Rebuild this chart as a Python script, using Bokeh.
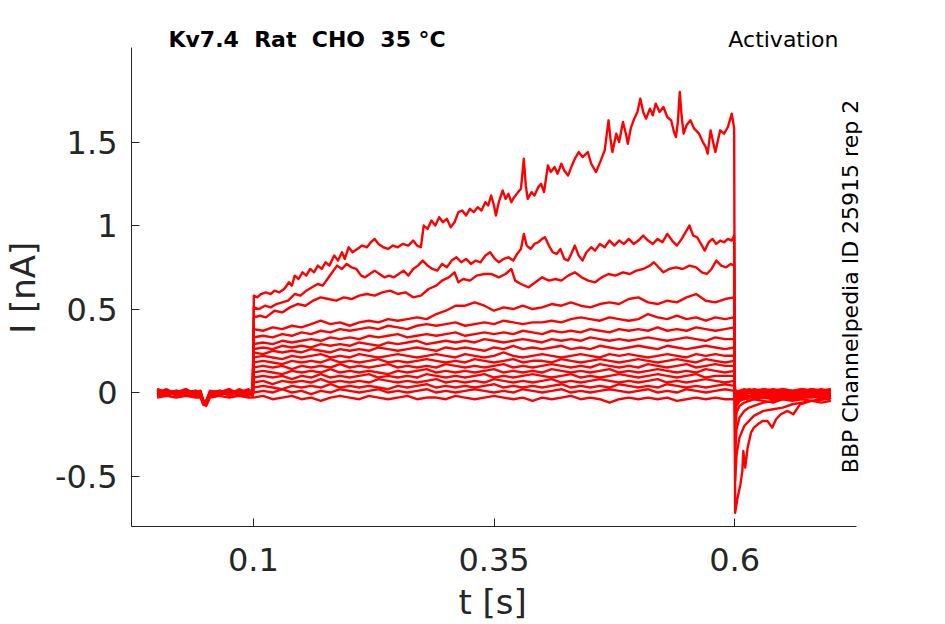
from bokeh.plotting import figure
from bokeh.models import Range1d, FixedTicker, Label
from bokeh.embed import file_html
from bokeh.resources import INLINE
import math

# ---------------- data ----------------
PRE_T = [0.000, 0.010, 0.020, 0.030, 0.040, 0.045, 0.048, 0.051, 0.055, 0.065, 0.075, 0.085, 0.095, 0.0995]
PULSE_T = [0.10, 0.11, 0.12, 0.13, 0.14, 0.15, 0.16, 0.17, 0.18, 0.19,
           0.20, 0.21, 0.22, 0.23, 0.24, 0.25, 0.26, 0.27, 0.28, 0.29,
           0.30, 0.31, 0.32, 0.33, 0.34, 0.35, 0.36, 0.37, 0.38, 0.39,
           0.40, 0.41, 0.42, 0.43, 0.44, 0.45, 0.46, 0.47, 0.48, 0.49,
           0.50, 0.51, 0.52, 0.53, 0.54, 0.55, 0.56, 0.57, 0.58, 0.59,
           0.5995]
TAIL_T = [0.6005, 0.602, 0.605, 0.61, 0.615, 0.62, 0.63, 0.64, 0.65, 0.66, 0.67, 0.68, 0.69, 0.70]

# trace A (largest current), irregular sample times
A_PULSE = [(0.1005, 0.58), (0.104, 0.57), (0.108, 0.59), (0.113, 0.60), (0.118, 0.59), (0.122, 0.61), (0.127, 0.60),
           (0.132, 0.62), (0.137, 0.66), (0.140, 0.64), (0.143, 0.70), (0.147, 0.68), (0.151, 0.72), (0.155, 0.70),
           (0.159, 0.74), (0.163, 0.72), (0.167, 0.76), (0.171, 0.74), (0.175, 0.78), (0.179, 0.76), (0.184, 0.82),
           (0.188, 0.79), (0.192, 0.84), (0.195, 0.80), (0.199, 0.87), (0.203, 0.84), (0.208, 0.86), (0.213, 0.88),
           (0.218, 0.87), (0.222, 0.90), (0.226, 0.92), (0.230, 0.89), (0.235, 0.87), (0.240, 0.86), (0.245, 0.88),
           (0.250, 0.87), (0.255, 0.89), (0.261, 0.88), (0.266, 0.91), (0.270, 0.88), (0.274, 0.87), (0.277, 1.00),
           (0.281, 0.98), (0.285, 1.03), (0.289, 1.00), (0.293, 1.05), (0.297, 1.02), (0.301, 1.04), (0.305, 0.99),
           (0.309, 1.02), (0.313, 1.08), (0.317, 1.09), (0.321, 1.06), (0.325, 1.10), (0.329, 1.08), (0.333, 1.11),
           (0.337, 1.09), (0.341, 1.14), (0.344, 1.12), (0.347, 1.18), (0.350, 1.12), (0.352, 1.06), (0.355, 1.14),
           (0.359, 1.21), (0.362, 1.16), (0.365, 1.19), (0.368, 1.14), (0.371, 1.17), (0.375, 1.20), (0.378, 1.22),
           (0.381, 1.40), (0.383, 1.24), (0.385, 1.16), (0.389, 1.20), (0.392, 1.18), (0.396, 1.23), (0.399, 1.25),
           (0.402, 1.20), (0.406, 1.36), (0.409, 1.32), (0.413, 1.35), (0.416, 1.31), (0.420, 1.37), (0.423, 1.33),
           (0.427, 1.30), (0.431, 1.36), (0.434, 1.40), (0.438, 1.44), (0.442, 1.41), (0.4475, 1.44), (0.451, 1.37),
           (0.456, 1.32), (0.461, 1.39), (0.465, 1.45), (0.469, 1.63), (0.471, 1.52), (0.473, 1.44), (0.477, 1.55),
           (0.480, 1.50), (0.484, 1.62), (0.487, 1.55), (0.489, 1.49), (0.492, 1.58), (0.495, 1.63), (0.499, 1.68),
           (0.502, 1.76), (0.505, 1.68), (0.508, 1.64), (0.512, 1.70), (0.515, 1.66), (0.518, 1.73), (0.522, 1.68),
           (0.526, 1.71), (0.530, 1.65), (0.534, 1.63), (0.537, 1.56), (0.539, 1.53), (0.541, 1.62), (0.543, 1.80),
           (0.545, 1.65), (0.547, 1.55), (0.550, 1.60), (0.554, 1.63), (0.558, 1.58), (0.563, 1.55), (0.567, 1.50),
           (0.570, 1.47), (0.572, 1.43), (0.575, 1.57), (0.578, 1.49), (0.580, 1.44), (0.583, 1.52), (0.585, 1.57),
           (0.589, 1.55), (0.593, 1.59), (0.597, 1.67), (0.5995, 1.58)]
A_TAIL = [(0.6005, -0.72), (0.603, -0.63), (0.606, -0.55), (0.608, -0.47), (0.609, -0.35), (0.611, -0.45),
          (0.6135, -0.33), (0.617, -0.24), (0.620, -0.21), (0.624, -0.19), (0.629, -0.17), (0.634, -0.17),
          (0.639, -0.21), (0.643, -0.16), (0.648, -0.13), (0.655, -0.11), (0.661, -0.13), (0.668, -0.07),
          (0.674, -0.06), (0.679, -0.05), (0.686, -0.05), (0.692, -0.04), (0.698, -0.04), (0.700, -0.03)]

B_PULSE = [(0.1005, 0.51), (0.106, 0.50), (0.112, 0.52), (0.118, 0.51), (0.124, 0.53), (0.130, 0.54), (0.136, 0.55),
           (0.143, 0.59), (0.149, 0.58), (0.155, 0.61), (0.161, 0.63), (0.167, 0.65), (0.172, 0.64), (0.177, 0.68),
           (0.182, 0.72), (0.187, 0.76), (0.192, 0.74), (0.197, 0.77), (0.202, 0.75), (0.207, 0.74), (0.212, 0.70),
           (0.216, 0.69), (0.221, 0.71), (0.226, 0.73), (0.231, 0.71), (0.236, 0.69), (0.241, 0.70), (0.246, 0.69),
           (0.251, 0.71), (0.256, 0.73), (0.261, 0.70), (0.266, 0.74), (0.271, 0.76), (0.276, 0.79), (0.281, 0.76),
           (0.286, 0.74), (0.291, 0.73), (0.296, 0.77), (0.301, 0.75), (0.306, 0.79), (0.311, 0.81), (0.316, 0.78),
           (0.321, 0.80), (0.326, 0.77), (0.331, 0.79), (0.336, 0.78), (0.341, 0.82), (0.346, 0.84), (0.351, 0.80),
           (0.355, 0.78), (0.360, 0.80), (0.365, 0.81), (0.370, 0.79), (0.374, 0.83), (0.378, 0.86), (0.381, 0.95),
           (0.384, 0.88), (0.388, 0.86), (0.392, 0.89), (0.396, 0.90), (0.400, 0.92), (0.403, 0.93), (0.407, 0.88),
           (0.411, 0.84), (0.415, 0.83), (0.419, 0.86), (0.423, 0.80), (0.427, 0.79), (0.431, 0.84), (0.434, 0.88),
           (0.438, 0.82), (0.442, 0.79), (0.446, 0.84), (0.451, 0.87), (0.455, 0.85), (0.460, 0.89), (0.465, 0.87),
           (0.470, 0.91), (0.475, 0.88), (0.480, 0.91), (0.485, 0.89), (0.490, 0.92), (0.495, 0.89), (0.500, 0.91),
           (0.505, 0.94), (0.510, 0.91), (0.515, 0.89), (0.520, 0.92), (0.525, 0.90), (0.530, 0.95), (0.535, 0.91),
           (0.540, 0.88), (0.545, 0.92), (0.550, 0.97), (0.553, 1.00), (0.557, 0.94), (0.561, 0.93), (0.565, 0.89),
           (0.569, 0.85), (0.573, 0.90), (0.577, 0.92), (0.581, 0.89), (0.585, 0.91), (0.589, 0.90), (0.593, 0.92),
           (0.597, 0.91), (0.5995, 0.94)]

C_PULSE = [(0.1005, 0.45), (0.107, 0.46), (0.113, 0.45), (0.122, 0.49), (0.130, 0.48), (0.138, 0.51), (0.146, 0.53),
           (0.154, 0.52), (0.162, 0.55), (0.170, 0.57), (0.178, 0.56), (0.186, 0.55), (0.194, 0.57), (0.202, 0.56),
           (0.210, 0.58), (0.218, 0.59), (0.226, 0.58), (0.234, 0.60), (0.242, 0.61), (0.250, 0.59), (0.258, 0.60),
           (0.266, 0.57), (0.274, 0.58), (0.282, 0.62), (0.290, 0.64), (0.296, 0.67), (0.303, 0.69), (0.309, 0.72),
           (0.313, 0.66), (0.318, 0.68), (0.325, 0.67), (0.332, 0.70), (0.340, 0.71), (0.347, 0.71), (0.355, 0.69),
           (0.362, 0.71), (0.368, 0.74), (0.372, 0.67), (0.378, 0.65), (0.386, 0.63), (0.393, 0.66), (0.400, 0.69),
           (0.407, 0.67), (0.414, 0.68), (0.420, 0.67), (0.427, 0.70), (0.434, 0.72), (0.441, 0.69), (0.448, 0.67),
           (0.455, 0.66), (0.462, 0.69), (0.469, 0.71), (0.476, 0.70), (0.484, 0.72), (0.491, 0.71), (0.498, 0.73),
           (0.505, 0.74), (0.512, 0.76), (0.516, 0.78), (0.521, 0.75), (0.526, 0.72), (0.532, 0.74), (0.539, 0.75),
           (0.546, 0.74), (0.553, 0.76), (0.560, 0.75), (0.566, 0.72), (0.571, 0.71), (0.576, 0.74), (0.581, 0.79),
           (0.586, 0.76), (0.591, 0.75), (0.596, 0.77), (0.5995, 0.76)]

# traces on the regular pulse grid
D_PULSE = [0.38, 0.37, 0.39, 0.38, 0.40, 0.39, 0.41, 0.43, 0.41, 0.42,
           0.40, 0.42, 0.43, 0.42, 0.44, 0.43, 0.44, 0.45, 0.44, 0.47,
           0.49, 0.52, 0.52, 0.54, 0.52, 0.49, 0.51, 0.50, 0.52, 0.50,
           0.51, 0.53, 0.52, 0.54, 0.52, 0.51, 0.53, 0.54, 0.53, 0.56,
           0.57, 0.54, 0.53, 0.55, 0.54, 0.57, 0.59, 0.55, 0.54, 0.56,
           0.57]
E_PULSE = [0.33, 0.34, 0.33, 0.35, 0.34, 0.36, 0.35, 0.37, 0.36, 0.38,
           0.37, 0.38, 0.39, 0.38, 0.40, 0.39, 0.38, 0.40, 0.41, 0.40,
           0.41, 0.42, 0.40, 0.41, 0.42, 0.41, 0.43, 0.42, 0.41, 0.42,
           0.42, 0.43, 0.42, 0.44, 0.45, 0.44, 0.43, 0.45, 0.44, 0.43,
           0.44, 0.47, 0.45, 0.44, 0.46, 0.44, 0.45, 0.43, 0.45, 0.44,
           0.45]
F_PULSE = [0.29, 0.30, 0.29, 0.31, 0.30, 0.31, 0.32, 0.31, 0.33, 0.32,
           0.33, 0.32, 0.34, 0.33, 0.34, 0.35, 0.33, 0.34, 0.35, 0.34,
           0.35, 0.36, 0.34, 0.35, 0.36, 0.35, 0.36, 0.35, 0.37, 0.36,
           0.35, 0.37, 0.36, 0.37, 0.36, 0.38, 0.37, 0.36, 0.38, 0.37,
           0.38, 0.37, 0.39, 0.37, 0.38, 0.37, 0.39, 0.38, 0.37, 0.38,
           0.39]
G_PULSE = [0.26, 0.27, 0.26, 0.28, 0.27, 0.28, 0.27, 0.29, 0.28, 0.29,
           0.28, 0.30, 0.29, 0.28, 0.30, 0.29, 0.30, 0.31, 0.29, 0.30,
           0.31, 0.30, 0.31, 0.30, 0.32, 0.31, 0.30, 0.31, 0.32, 0.31,
           0.30, 0.32, 0.31, 0.32, 0.31, 0.33, 0.32, 0.31, 0.32, 0.31,
           0.32, 0.33, 0.32, 0.31, 0.32, 0.33, 0.32, 0.31, 0.33, 0.32,
           0.32]
H_PULSE = [0.24, 0.23, 0.25, 0.24, 0.25, 0.24, 0.26, 0.25, 0.24, 0.26,
           0.25, 0.26, 0.25, 0.27, 0.26, 0.25, 0.26, 0.27, 0.26, 0.25,
           0.27, 0.26, 0.27, 0.26, 0.25, 0.27, 0.26, 0.28, 0.26, 0.27,
           0.26, 0.27, 0.28, 0.26, 0.27, 0.26, 0.28, 0.27, 0.26, 0.27,
           0.28, 0.27, 0.26, 0.28, 0.27, 0.26, 0.27, 0.28, 0.27, 0.26,
           0.27]
I_PULSE = [0.21, 0.22, 0.21, 0.20, 0.22, 0.21, 0.22, 0.23, 0.21, 0.22,
           0.21, 0.23, 0.22, 0.21, 0.22, 0.23, 0.22, 0.21, 0.22, 0.23,
           0.22, 0.21, 0.23, 0.22, 0.21, 0.22, 0.24, 0.22, 0.21, 0.22,
           0.23, 0.22, 0.21, 0.22, 0.23, 0.22, 0.21, 0.23, 0.22, 0.23,
           0.22, 0.21, 0.22, 0.23, 0.22, 0.21, 0.23, 0.22, 0.23, 0.22,
           0.22]
J_PULSE = [0.18, 0.19, 0.18, 0.17, 0.19, 0.18, 0.19, 0.18, 0.20, 0.18,
           0.19, 0.18, 0.19, 0.20, 0.18, 0.19, 0.18, 0.19, 0.20, 0.19,
           0.18, 0.19, 0.18, 0.20, 0.19, 0.18, 0.19, 0.20, 0.18, 0.19,
           0.19, 0.18, 0.20, 0.19, 0.18, 0.19, 0.20, 0.19, 0.18, 0.19,
           0.20, 0.19, 0.18, 0.19, 0.20, 0.19, 0.18, 0.20, 0.19, 0.18,
           0.19]
K_PULSE = [0.15, 0.16, 0.15, 0.16, 0.14, 0.16, 0.15, 0.16, 0.15, 0.17,
           0.15, 0.16, 0.15, 0.16, 0.17, 0.15, 0.16, 0.15, 0.16, 0.15,
           0.17, 0.16, 0.15, 0.16, 0.15, 0.16, 0.17, 0.15, 0.16, 0.15,
           0.16, 0.17, 0.16, 0.15, 0.16, 0.15, 0.17, 0.16, 0.15, 0.16,
           0.15, 0.17, 0.16, 0.15, 0.16, 0.17, 0.15, 0.16, 0.17, 0.16,
           0.16]
L_PULSE = [0.12, 0.13, 0.12, 0.11, 0.13, 0.12, 0.13, 0.12, 0.14, 0.12,
           0.13, 0.12, 0.13, 0.12, 0.11, 0.13, 0.12, 0.13, 0.14, 0.12,
           0.13, 0.12, 0.13, 0.12, 0.13, 0.14, 0.12, 0.13, 0.12, 0.13,
           0.12, 0.14, 0.13, 0.12, 0.13, 0.12, 0.13, 0.14, 0.12, 0.13,
           0.12, 0.13, 0.14, 0.13, 0.12, 0.13, 0.12, 0.14, 0.13, 0.12,
           0.13]
M_PULSE = [0.09, 0.10, 0.09, 0.10, 0.08, 0.10, 0.09, 0.11, 0.09, 0.10,
           0.09, 0.10, 0.11, 0.09, 0.10, 0.09, 0.10, 0.09, 0.11, 0.10,
           0.09, 0.10, 0.09, 0.10, 0.11, 0.09, 0.10, 0.09, 0.10, 0.11,
           0.10, 0.09, 0.10, 0.11, 0.09, 0.10, 0.09, 0.10, 0.11, 0.10,
           0.09, 0.10, 0.11, 0.10, 0.09, 0.10, 0.11, 0.09, 0.10, 0.10,
           0.10]
N_PULSE = [0.06, 0.07, 0.05, 0.07, 0.06, 0.07, 0.06, 0.08, 0.06, 0.07,
           0.06, 0.07, 0.06, 0.08, 0.07, 0.06, 0.07, 0.06, 0.07, 0.08,
           0.06, 0.07, 0.06, 0.07, 0.06, 0.08, 0.07, 0.06, 0.07, 0.06,
           0.07, 0.08, 0.06, 0.07, 0.06, 0.07, 0.08, 0.07, 0.06, 0.07,
           0.06, 0.07, 0.08, 0.06, 0.07, 0.06, 0.07, 0.08, 0.07, 0.06,
           0.07]
O_PULSE = [0.03, 0.04, 0.03, 0.02, 0.04, 0.03, 0.04, 0.03, 0.05, 0.03,
           0.04, 0.03, 0.04, 0.03, 0.02, 0.04, 0.03, 0.04, 0.05, 0.03,
           0.04, 0.03, 0.04, 0.03, 0.04, 0.05, 0.03, 0.04, 0.03, 0.04,
           0.03, 0.04, 0.05, 0.03, 0.04, 0.03, 0.04, 0.03, 0.05, 0.04,
           0.03, 0.04, 0.03, 0.05, 0.04, 0.03, 0.04, 0.03, 0.04, 0.05,
           0.04]
P_PULSE = [0.00, 0.01, 0.00, 0.02, 0.00, 0.01, -0.01, 0.01, 0.00, 0.02,
           0.01, 0.00, 0.01, 0.02, 0.00, 0.01, 0.00, 0.01, 0.02, 0.00,
           0.01, 0.00, 0.01, 0.02, 0.01, 0.00, 0.01, 0.00, 0.02, 0.01,
           0.00, 0.01, 0.02, 0.00, 0.01, 0.00, 0.01, 0.02, 0.01, 0.00,
           0.01, 0.02, 0.00, 0.01, 0.00, 0.02, 0.01, 0.00, 0.01, 0.02,
           0.01]
Q_PULSE = [-0.03, -0.02, -0.04, -0.03, -0.02, -0.04, -0.03, -0.05, -0.03, -0.02,
           -0.03, -0.04, -0.02, -0.03, -0.04, -0.03, -0.02, -0.04, -0.03, -0.03,
           -0.04, -0.02, -0.03, -0.04, -0.03, -0.02, -0.03, -0.04, -0.03, -0.05,
           -0.03, -0.04, -0.03, -0.02, -0.04, -0.03, -0.04, -0.06, -0.04, -0.03,
           -0.04, -0.03, -0.04, -0.03, -0.05, -0.04, -0.03, -0.04, -0.03, -0.04,
           -0.04]

# holding current before the step (one row per trace, A..Q)
PRE_I = [
    [0.00, -0.01, 0.01, 0.00, -0.01, -0.02, -0.06, -0.05, -0.01, 0.00, -0.01, 0.01, 0.00, -0.01],
    [0.01, 0.00, -0.01, 0.01, 0.00, -0.01, -0.05, -0.06, -0.02, 0.01, 0.00, -0.01, 0.01, 0.00],
    [-0.01, 0.01, 0.00, -0.02, 0.01, 0.00, -0.07, -0.05, 0.00, -0.01, 0.01, 0.00, -0.02, 0.01],
    [0.02, 0.00, 0.01, -0.01, 0.00, -0.02, -0.06, -0.07, -0.01, 0.00, 0.02, -0.01, 0.00, 0.01],
    [-0.02, -0.01, 0.00, 0.01, -0.02, -0.01, -0.05, -0.06, -0.02, -0.01, 0.00, -0.02, -0.01, 0.00],
    [0.00, 0.02, -0.01, 0.00, 0.01, -0.01, -0.06, -0.05, 0.01, 0.00, -0.01, 0.01, 0.00, -0.02],
    [-0.01, 0.00, 0.01, -0.01, 0.00, 0.01, -0.05, -0.07, -0.01, 0.01, 0.00, -0.01, 0.01, 0.00],
    [0.01, -0.01, 0.00, 0.02, -0.01, 0.00, -0.06, -0.06, 0.00, -0.02, 0.01, 0.00, -0.01, 0.01],
    [0.00, 0.01, -0.02, 0.00, 0.01, -0.02, -0.07, -0.06, -0.01, 0.00, -0.01, 0.02, 0.00, -0.01],
    [-0.02, 0.00, 0.01, -0.01, -0.02, 0.00, -0.05, -0.05, 0.00, 0.01, -0.02, 0.00, 0.01, 0.00],
    [0.01, 0.00, -0.01, 0.01, 0.00, -0.01, -0.06, -0.07, -0.02, 0.00, 0.01, -0.01, 0.00, 0.02],
    [0.00, -0.02, 0.00, -0.01, 0.01, 0.00, -0.05, -0.06, 0.00, -0.01, 0.00, 0.01, -0.02, 0.00],
    [-0.01, 0.01, 0.00, 0.02, -0.01, -0.02, -0.06, -0.05, -0.01, 0.01, -0.01, 0.00, 0.01, -0.01],
    [0.02, 0.00, -0.01, 0.00, 0.01, 0.00, -0.07, -0.06, 0.01, 0.00, 0.02, -0.01, 0.00, 0.01],
    [-0.01, -0.02, 0.01, -0.01, 0.00, -0.01, -0.06, -0.07, -0.02, -0.01, 0.00, 0.01, -0.01, 0.00],
    [0.00, 0.01, -0.01, 0.01, -0.02, 0.01, -0.05, -0.06, 0.00, 0.01, -0.01, 0.00, 0.02, -0.01],
    [-0.03, -0.02, -0.03, -0.02, -0.03, -0.03, -0.07, -0.08, -0.03, -0.02, -0.03, -0.02, -0.03, -0.03],
]

# tail currents after the step back (traces B..Q on TAIL_T)
TAIL_I = [
    [-0.53, -0.37, -0.27, -0.20, -0.17, -0.14, -0.11, -0.10, -0.09, -0.07, -0.06, -0.05, -0.04, -0.03],
    [-0.36, -0.22, -0.15, -0.11, -0.09, -0.08, -0.06, -0.05, -0.04, -0.04, -0.03, -0.03, -0.02, -0.02],
    [-0.22, -0.12, -0.08, -0.06, -0.05, -0.04, -0.03, -0.03, -0.02, -0.02, -0.03, -0.02, -0.01, -0.02],
    [-0.15, -0.08, -0.05, -0.04, -0.03, -0.03, -0.02, -0.02, -0.01, -0.02, -0.01, -0.01, -0.02, -0.01],
    [-0.10, -0.05, -0.03, -0.02, -0.02, -0.01, -0.01, -0.02, 0.00, -0.01, -0.01, 0.00, -0.01, 0.00],
    [-0.07, -0.03, -0.02, -0.01, 0.00, -0.01, 0.00, 0.01, 0.00, -0.01, 0.00, 0.01, 0.00, 0.01],
    [-0.05, -0.02, 0.00, 0.01, 0.00, 0.01, 0.02, 0.01, 0.00, 0.01, 0.02, 0.01, 0.00, 0.01],
    [-0.04, -0.01, 0.01, 0.00, 0.01, 0.02, 0.01, 0.02, 0.01, 0.00, 0.01, 0.02, 0.01, 0.02],
    [-0.03, 0.00, 0.01, 0.02, 0.01, 0.00, 0.02, 0.01, 0.02, 0.01, 0.02, 0.01, 0.02, 0.01],
    [-0.02, 0.01, 0.00, 0.01, 0.02, 0.01, 0.00, 0.01, 0.02, 0.01, 0.00, 0.02, 0.01, 0.02],
    [-0.02, 0.00, 0.01, 0.00, 0.01, 0.00, 0.01, 0.00, -0.01, 0.00, 0.01, 0.00, -0.01, 0.00],
    [-0.01, 0.00, -0.01, 0.00, 0.01, 0.00, -0.01, 0.00, -0.01, 0.00, -0.01, 0.00, -0.01, -0.02],
    [-0.02, -0.01, -0.02, -0.01, 0.00, -0.01, -0.02, -0.01, -0.02, -0.03, -0.02, -0.01, -0.02, -0.01],
    [-0.02, -0.03, -0.02, -0.01, -0.02, -0.03, -0.02, -0.03, -0.02, -0.01, -0.03, -0.02, -0.03, -0.02],
    [-0.03, -0.02, -0.03, -0.04, -0.03, -0.02, -0.03, -0.04, -0.03, -0.04, -0.03, -0.02, -0.04, -0.03],
    [-0.04, -0.05, -0.04, -0.03, -0.05, -0.04, -0.05, -0.06, -0.04, -0.05, -0.04, -0.05, -0.06, -0.05],
]

GRID_PULSES = [D_PULSE, E_PULSE, F_PULSE, G_PULSE, H_PULSE, I_PULSE, J_PULSE, K_PULSE,
               L_PULSE, M_PULSE, N_PULSE, O_PULSE, P_PULSE, Q_PULSE]

X_TICKS = [0.1, 0.35, 0.6]
X_TICK_LABELS = ["0.1", "0.35", "0.6"]
Y_TICKS = [-0.5, 0, 0.5, 1, 1.5]
Y_TICK_LABELS = ["-0.5", "0", "0.5", "1", "1.5"]

NB = "\u00a0"
TITLE = "Kv7.4" + NB + " Rat" + NB + " CHO" + NB + " 35 °C"
PROTOCOL = "Activation"
SOURCE = "BBP Channelpedia ID 25915 rep 2"
X_LABEL = "t [s]"
Y_LABEL = "I [nA]"

# ---------------- figure ----------------
FONT = "DejaVu Sans"
TXT = "#262626"
RED = "#ff0000"

X_AXIS = (-0.0266, 0.7266)   # extent of the drawn x axis
Y_AXIS = (-0.802, 2.066)     # extent of the drawn y axis

p = figure(width=944, height=624,
           x_range=Range1d(-0.0266, 0.7349), y_range=Range1d(-0.802, 2.2516),
           output_backend="svg", toolbar_location=None,
           min_border_left=130, min_border_right=80, min_border_top=16, min_border_bottom=98)
p.outline_line_color = None
p.xgrid.visible = False
p.ygrid.visible = False
p.background_fill_color = "white"
p.border_fill_color = "white"

for ax in (p.xaxis[0], p.yaxis[0]):
    ax.axis_line_color = TXT
    ax.axis_line_width = 1
    ax.major_tick_line_color = TXT
    ax.major_tick_in = 8
    ax.major_tick_out = 0
    ax.minor_tick_line_color = None
    ax.major_label_text_font = FONT
    ax.major_label_text_font_size = "32px"
    ax.major_label_text_color = TXT
    ax.axis_label_text_font = FONT
    ax.axis_label_text_font_size = "34px"
    ax.axis_label_text_font_style = "normal"
    ax.axis_label_text_color = TXT

p.xaxis.bounds = X_AXIS
p.yaxis.bounds = Y_AXIS
p.xaxis.ticker = FixedTicker(ticks=X_TICKS)
p.xaxis.major_label_overrides = {t: l for t, l in zip(X_TICKS, X_TICK_LABELS)}
p.yaxis.ticker = FixedTicker(ticks=Y_TICKS)
p.yaxis.major_label_overrides = {t: l for t, l in zip(Y_TICKS, Y_TICK_LABELS)}
# trailing no-break spaces centre the labels on the drawn axes rather than on the wider frame
p.xaxis.axis_label = X_LABEL + NB
p.yaxis.axis_label = Y_LABEL + NB * 3
p.xaxis.major_label_standoff = 21
p.yaxis.major_label_standoff = 14
p.xaxis.axis_label_standoff = 8
p.yaxis.axis_label_standoff = 9


def draw(pre, pulse_t, pulse_i, tail_t, tail_i):
    xs = list(PRE_T) + list(pulse_t) + list(tail_t)
    ys = list(pre) + list(pulse_i) + list(tail_i)
    p.line(xs, ys, line_color=RED, line_width=2.4, line_join="round")


# trace A
draw(PRE_I[0], [a for a, _ in A_PULSE], [b for _, b in A_PULSE], [a for a, _ in A_TAIL], [b for _, b in A_TAIL])
# traces B, C
draw(PRE_I[1], [a for a, _ in B_PULSE], [b for _, b in B_PULSE], TAIL_T, TAIL_I[0])
draw(PRE_I[2], [a for a, _ in C_PULSE], [b for _, b in C_PULSE], TAIL_T, TAIL_I[1])
# traces D..Q
for k, pulse in enumerate(GRID_PULSES):
    draw(PRE_I[3 + k], PULSE_T, pulse, TAIL_T, TAIL_I[2 + k])

p.add_layout(Label(x=0.0118, y=2.111, text=TITLE, text_font=FONT, text_font_style="bold",
                   text_font_size="22px", text_color="black", text_align="left", text_baseline="middle"))
p.add_layout(Label(x=0.7079, y=2.114, text=PROTOCOL, text_font=FONT,
                   text_font_size="22px", text_color="black", text_align="right", text_baseline="middle"))
p.add_layout(Label(x=0.7203, y=0.635, text=SOURCE, text_font=FONT, angle=math.pi / 2,
                   text_font_size="22px", text_color="black", text_align="center", text_baseline="middle"))

open("out.html", "w").write(file_html(p, INLINE))
